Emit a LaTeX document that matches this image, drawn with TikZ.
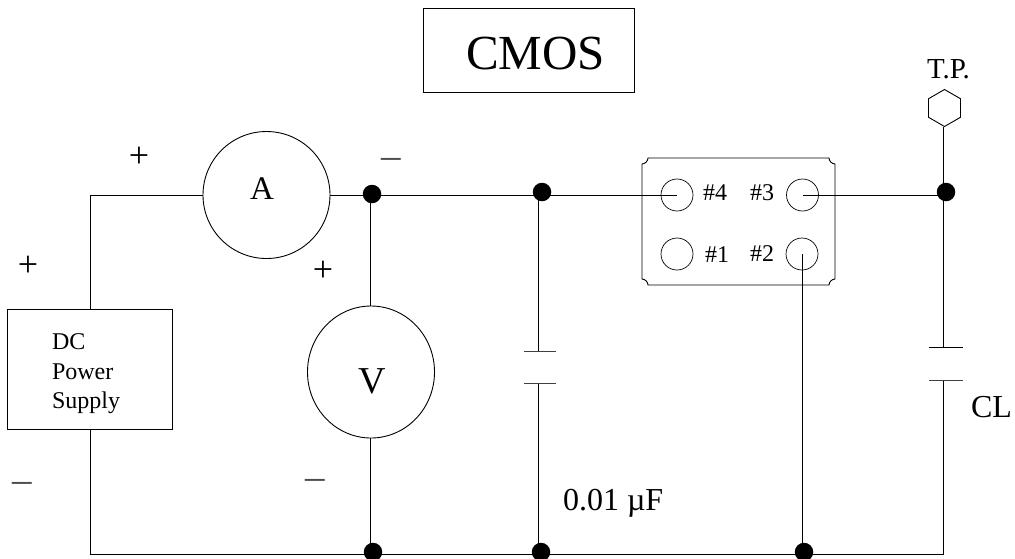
\documentclass[tikz,border=0pt]{standalone}
\usepackage{fontspec}
\setmainfont{Liberation Serif}
\usetikzlibrary{shapes.geometric}
\tikzset{
  wire/.style={line width=0.9pt,black},
  outline/.style={draw,line width=0.9pt,inner sep=0pt,outer sep=0pt},
  meter/.style={outline,circle,minimum size=127pt},
  voltmeter/.style={outline,ellipse,minimum width=127pt,minimum height=132pt},
  pin/.style={outline,circle,minimum size=32pt,line width=0.7pt},
  junction/.style={circle,fill=black,draw=none,inner sep=0pt,minimum size=18.5pt},
  lbl/.style={inner sep=0pt,outer sep=0pt,anchor=base,font=\fontsize{#1}{#1}\selectfont},
  lblw/.style={inner sep=0pt,outer sep=0pt,anchor=base west,font=\fontsize{#1}{#1}\selectfont},
  sign/.style={lbl=36},
  neg/.style={lbl=39,text=black!70},
}
\begin{document}
\begin{tikzpicture}[x=1pt,y=-1pt]
\useasboundingbox (0,0) rectangle (1015,558);
\clip (0,0) rectangle (1015,558);
% title
\node[outline,rectangle,minimum width=211pt,minimum height=84pt] (titlebox) at (528.5,50) {};
\node[lbl=49] (cmos) at (535.5,69) {CMOS};
% components
\node[outline,rectangle,minimum width=165pt,minimum height=120pt] (psu) at (89.5,369) {};
\node[meter] (amm) at (266.5,195) {};
\node[voltmeter] (vm) at (371,372) {};
\node[outline,regular polygon,regular polygon sides=6,shape border rotate=30,minimum size=37pt] (tp) at (944.5,108) {};
% package
\draw[line width=0.9pt] (648,158) -- (829,158)
  .. controls (829,161) and (832,164) .. (835,164) -- (835,279)
  .. controls (832,279) and (829,282) .. (829,285) -- (648,285)
  .. controls (648,282) and (645,279) .. (642,279) -- (642,164)
  .. controls (645,164) and (648,161) .. (648,158) -- cycle;
\node[pin] (p4) at (677,195) {};
\node[pin] (p3) at (802.5,195) {};
\node[pin] (p1) at (677,254) {};
\node[pin] (p2) at (802,254) {};
% wire points
\coordinate (lt) at (90,195);
\coordinate (lb) at (90,554);
\coordinate (rb) at (943.7,554);
\coordinate (top1) at (370,195);
\coordinate (bot1) at (370,554);
\coordinate (top2) at (538,195);
\coordinate (bot2) at (538,554);
\coordinate (bot3) at (802,554);
\coordinate (top4) at (943.7,195);
% capacitors
\coordinate (c1a) at (538,351);
\coordinate (c1b) at (538,383);
\coordinate (c2a) at (943.7,347);
\coordinate (c2b) at (943.7,380);
\coordinate (c1al) at (524,351); \coordinate (c1ar) at (556,351);
\coordinate (c1bl) at (524,383); \coordinate (c1br) at (556,383);
\coordinate (c2al) at (929,347); \coordinate (c2ar) at (963,347);
\coordinate (c2bl) at (929,380); \coordinate (c2br) at (963,380);
\draw[wire] (psu.north -| lt) -- (lt) -- (amm.west);
\draw[wire] (psu.south -| lb) -- (lb) -- (rb) -- (c2b);
\draw[wire] (amm.east) -- (p4.center);
\draw[wire] (p3.center) -- (top4);
\draw[wire] (top1) -- (vm.north -| top1);
\draw[wire] (vm.south -| bot1) -- (bot1);
\draw[wire] (top2) -- (c1a);
\draw[wire] (c1b) -- (bot2);
\draw[wire] (p2.center) -- (bot3);
\draw[wire] (tp.south -| top4) -- (c2a);
\draw[wire,black!75] (c1al) -- (c1ar);
\draw[wire,black!75] (c1bl) -- (c1br);
\draw[wire] (c2al) -- (c2ar);
\draw[wire,black!75] (c2bl) -- (c2br);
% junctions
\node[junction] (j1) at (372,194) {};
\node[junction] (j2) at (542,192) {};
\node[junction] (j3) at (946,192) {};
\node[junction] (j4) at (373,552) {};
\node[junction] (j5) at (541,552) {};
\node[junction] (j6) at (804,552) {};
% labels
\node[lbl=33] (la) at (262,199) {A};
\node[lbl=38] (lv) at (372,393) {V};
\node[lblw=24] (ldc) at (52,349) {DC};
\node[lblw=24] (lpw) at (52,379) {Power};
\node[lblw=24] (lsu) at (52,408) {Supply};
\node[lblw=24] (n4) at (703,200) {\#4};
\node[lblw=24] (n3) at (750,200) {\#3};
\node[lblw=24] (n1) at (705,262) {\#1};
\node[lblw=24] (n2) at (750,261) {\#2};
\node[lblw=29] (ltp) at (927,78) {T.P.};
\node[lblw=32] (lcl) at (971,417) {CL};
\node[lblw=32] (lcap) at (563,510) {0.01 µF};
\node[sign] (s1) at (139,167) {+};
\node[sign] (s2) at (28,276) {+};
\node[sign] (s3) at (323,281) {+};
\node[neg] (m1) at (391,168) {–};
\node[neg] (m2) at (22,492) {–};
\node[neg] (m3) at (315.5,489) {–};
\end{tikzpicture}
\end{document}
